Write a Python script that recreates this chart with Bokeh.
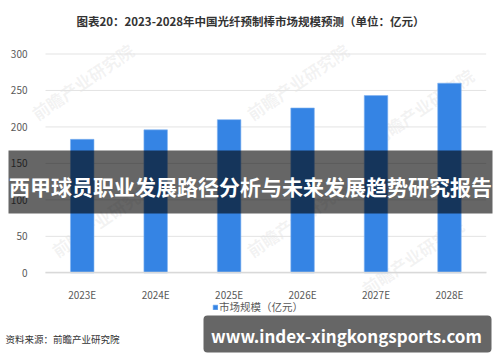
from bokeh.plotting import figure
from bokeh.models import (ColumnDataSource, Label, BoxAnnotation, Legend, LegendItem,
                          Range1d, FixedTicker)
from bokeh.embed import file_html
from bokeh.resources import INLINE

# ---- data ----
categories = ["2023E", "2024E", "2025E", "2026E", "2027E", "2028E"]
market_size = [183, 196, 210, 226, 243, 260]
y_ticks = [0, 50, 100, 150, 200, 250, 300]

title_text = "图表20：2023-2028年中国光纤预制棒市场规模预测（单位：亿元）"
legend_label = "市场规模（亿元）"
source_text = "资料来源：前瞻产业研究院"
banner_text = "西甲球员职业发展路径分析与未来发展趋势研究报告"
url_text = "www.index-xingkongsports.com"
watermark_text = "前瞻产业研究院"

FONT = "Noto Sans CJK SC"
BLUE = "#3584e4"

n = len(categories)
x_pos = [i + 0.5 for i in range(n)]

# The frame covers the whole canvas so that overlays are not clipped;
# ranges are chosen so the data area sits at x 45..486, y 53..272 px.
PX_X = 440.7 / n
PX_Y = (308.5 - 89.7) / 300.0
x_range = Range1d(-45 / PX_X, n + 14.3 / PX_X)
y_range = Range1d(-89.7 / PX_Y, 300 + 53.5 / PX_Y)

p = figure(width=500, height=362, x_range=x_range, y_range=y_range,
           output_backend="svg", toolbar_location=None,
           min_border=0, min_border_left=0, min_border_right=0,
           min_border_top=0, min_border_bottom=0)
p.outline_line_color = None
p.background_fill_color = "white"
p.border_fill_color = "white"
p.xgrid.visible = False
p.ygrid.visible = False

# watermarks (behind)
for (wx, wy) in [(40, 125), (255, 125), (380, 150), (60, 262), (255, 262), (370, 300)]:
    p.add_layout(Label(x=wx, y=wy, x_units="canvas", y_units="canvas", text=watermark_text,
                       angle=0.6, text_font=FONT, text_font_size="17px", text_font_style="bold",
                       text_color="#9a9a9a", text_alpha=0.12, level="underlay"))

# gridlines limited to the data area
grid_src = ColumnDataSource(dict(y=y_ticks, x0=[0] * len(y_ticks), x1=[n] * len(y_ticks)))
p.segment(x0="x0", x1="x1", y0="y", y1="y", source=grid_src,
          line_color="#e3e3e3", line_width=1)

src = ColumnDataSource(dict(x=x_pos, cat=categories, val=market_size))
r = p.vbar(x="x", top="val", width=0.32, source=src, fill_color=BLUE,
           line_color="#7fb2f0", line_width=0.6)

# axes drawn at fixed data locations (take no panel space)
p.yaxis.fixed_location = 0
p.yaxis.ticker = FixedTicker(ticks=y_ticks)
p.yaxis.axis_line_color = None
p.yaxis.major_tick_line_color = None
p.yaxis.minor_tick_line_color = None
p.yaxis.major_label_standoff = 12
p.yaxis.major_label_text_font = FONT
p.yaxis.major_label_text_font_size = "10px"
p.yaxis.major_label_text_color = "#595959"

p.xaxis.fixed_location = 0
p.xaxis.bounds = (0, n)
p.xaxis.ticker = FixedTicker(ticks=x_pos)
p.xaxis.major_label_overrides = {x: c for x, c in zip(x_pos, categories)}
p.xaxis.axis_line_color = "#d9d9d9"
p.xaxis.axis_line_width = 1.5
p.xaxis.major_tick_line_color = None
p.xaxis.minor_tick_line_color = None
p.xaxis.major_label_standoff = 8
p.xaxis.major_label_text_font = FONT
p.xaxis.major_label_text_font_size = "10px"
p.xaxis.major_label_text_color = "#595959"

legend = Legend(items=[LegendItem(label=legend_label, renderers=[r])],
                location=(212, 48), orientation="horizontal",
                glyph_width=6, glyph_height=6, label_height=12, label_standoff=1,
                padding=0, margin=0, spacing=0, border_line_color=None,
                background_fill_alpha=0, label_text_font=FONT,
                label_text_font_size="10.5px", label_text_color="#595959")
p.add_layout(legend, "center")

# title
p.add_layout(Label(x=250, y=20, x_units="canvas", y_units="canvas", text=title_text,
                   text_align="center", text_baseline="middle", text_font=FONT,
                   text_font_size="11.5px", text_font_style="bold", text_color="#333333"))

# source
p.add_layout(Label(x=5, y=338, x_units="canvas", y_units="canvas", text=source_text,
                   text_align="left", text_baseline="middle", text_font=FONT,
                   text_font_size="9.5px", text_color="#333333"))

# overlay band
p.add_layout(BoxAnnotation(left=8, right=492, top=150, bottom=213,
                           left_units="canvas", right_units="canvas",
                           top_units="canvas", bottom_units="canvas",
                           fill_color="black", fill_alpha=0.6, line_color=None))
p.add_layout(Label(x=250, y=185, x_units="canvas", y_units="canvas", text=banner_text,
                   text_align="center", text_baseline="middle", text_font=FONT,
                   text_font_size="21px", text_font_style="bold", text_color="white"))

# url banner
p.add_layout(BoxAnnotation(left=203, right=491, top=315, bottom=352,
                           left_units="canvas", right_units="canvas",
                           top_units="canvas", bottom_units="canvas",
                           fill_color="black", fill_alpha=0.6, line_color=None,
                           border_radius=4))
p.add_layout(Label(x=346, y=335, x_units="canvas", y_units="canvas", text=url_text,
                   text_align="center", text_baseline="middle", text_font=FONT,
                   text_font_size="17px", text_font_style="bold", text_color="white"))

open("out.html", "w").write(file_html(p, INLINE))
